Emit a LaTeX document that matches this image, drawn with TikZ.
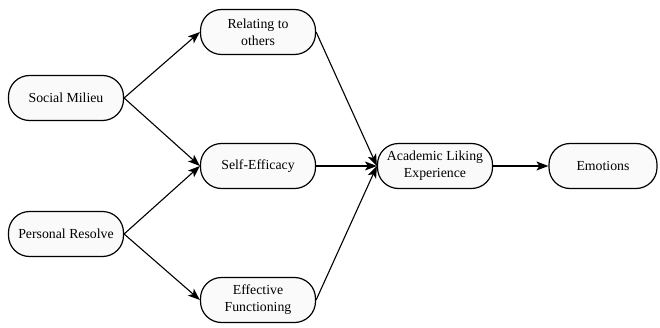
\documentclass[tikz,border=0pt]{standalone}
\usepackage{fontspec}
\setmainfont{Liberation Serif}
\usetikzlibrary{shapes,arrows,arrows.meta}

\begin{document}
\begin{tikzpicture}[->,>={Stealth[length=12pt,width=9pt,inset=3pt]},line width=1.1pt,x=1pt,y=1pt]
\tikzstyle{box}=[draw=black,line width=1.2pt,fill=gray!4,rounded corners=21pt,minimum width=115pt,minimum height=45pt,align=center,inner sep=2pt,font=\fontsize{13.8}{17}\selectfont]

\useasboundingbox (0,0) rectangle (660,327);

\node[box] (SM)  at (66,229)  {Social Milieu};
\node[box] (PR)  at (66,93)   {Personal Resolve};
\node[box] (RO)  at (258,295) {Relating to\\others};
\node[box] (SE)  at (258,161) {Self-Efficacy};
\node[box] (EF)  at (258,27)  {Effective\\Functioning};
\node[box] (ALE) at (435,161) {Academic Liking\\Experience};
\node[box,minimum width=108pt] (EM) at (603,161) {Emotions};

\draw (SM.east) -- (RO.west);
\draw (SM.east) -- (SE.west);
\draw (PR.east) -- (SE.west);
\draw (PR.east) -- (EF.west);
\draw (RO.east) -- (ALE.west);
\draw (SE.east) -- (ALE.west);
\draw (EF.east) -- (ALE.west);
\draw (ALE.east) -- (EM.west);
\end{tikzpicture}
\end{document}
